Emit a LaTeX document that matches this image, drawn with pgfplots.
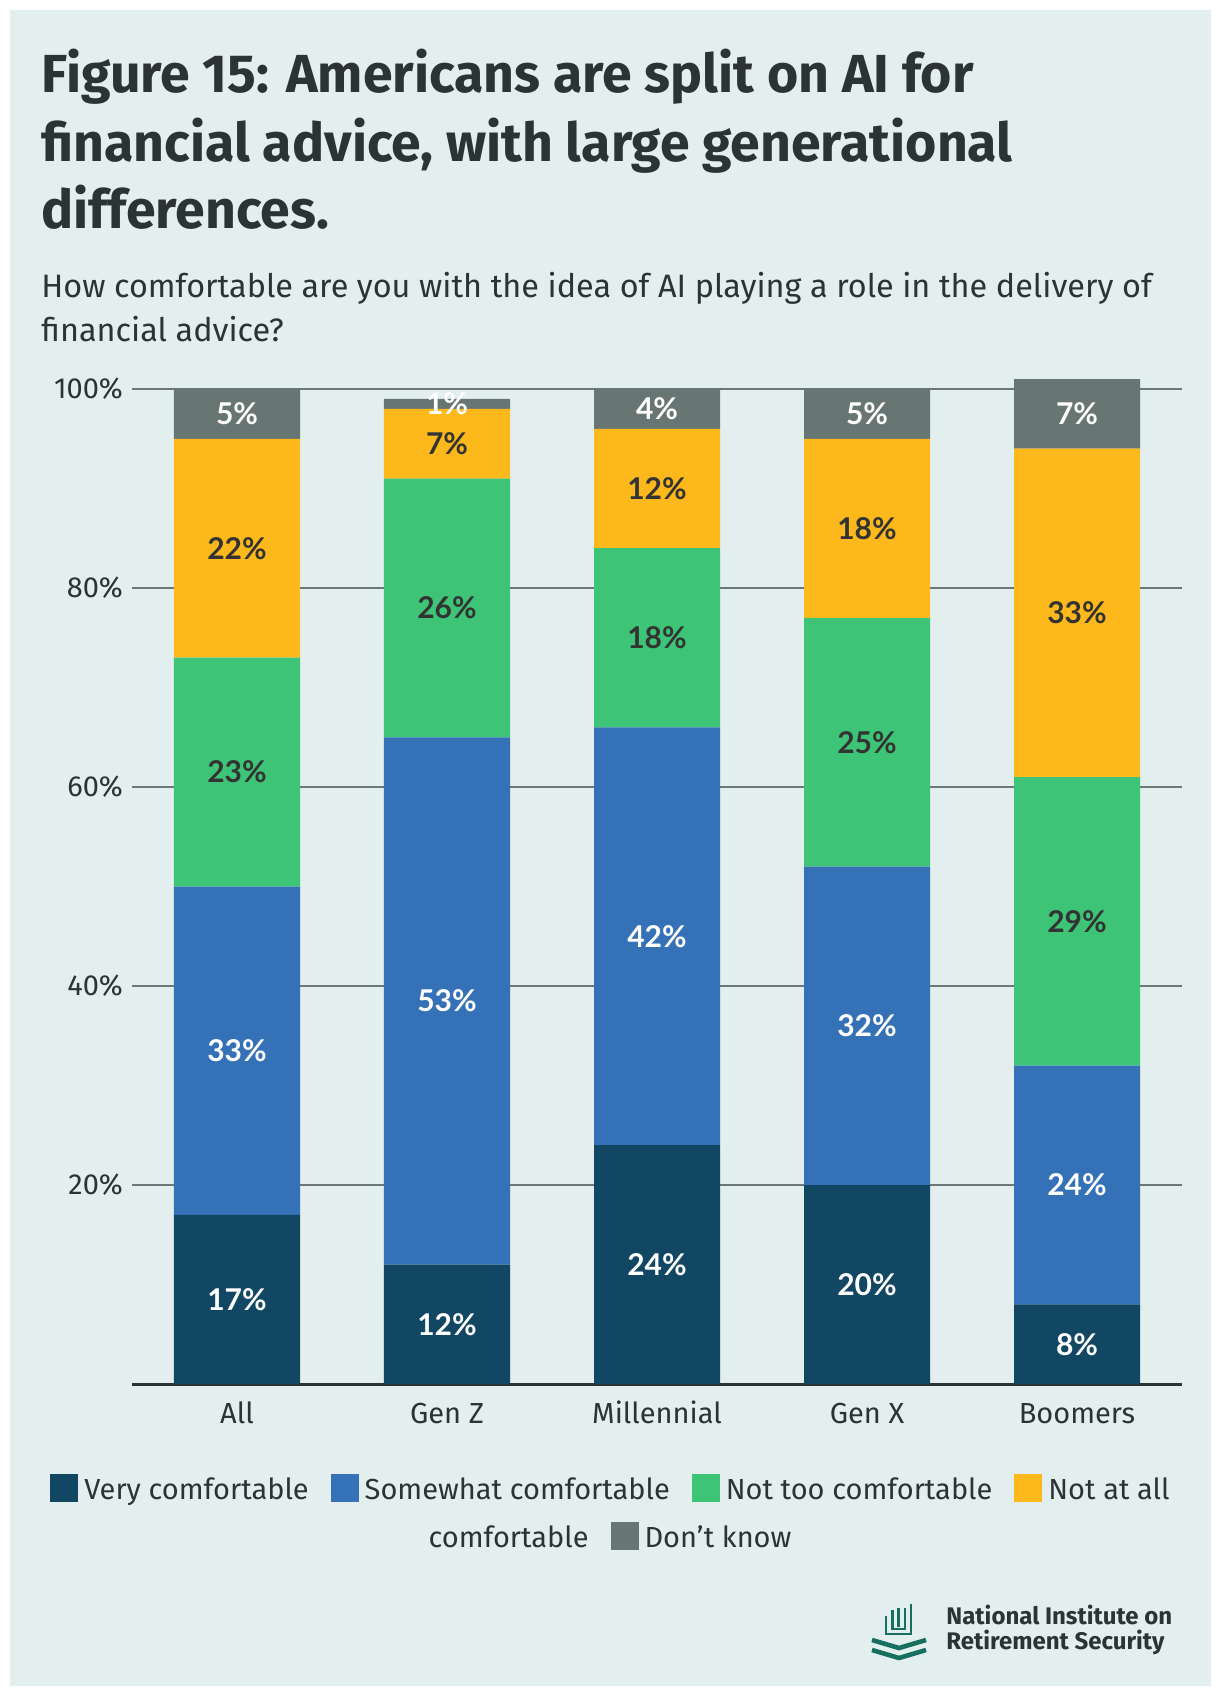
\documentclass[border=0pt]{standalone}
\usepackage{pgfplots}
\pgfplotsset{compat=1.18}
\usepackage{pgfplotstable}
\usepackage{fontspec}
\setmainfont{Fira Sans}
\newfontfamily\lato{Lato}
\definecolor{bg}{HTML}{E3EFEE}
\definecolor{cvery}{HTML}{124764}
\definecolor{csome}{HTML}{3571B6}
\definecolor{cnot}{HTML}{3EC476}
\definecolor{cnotall}{HTML}{FDB81C}
\definecolor{cdk}{HTML}{687673}
\definecolor{txt}{HTML}{2B3335}
\definecolor{gridc}{HTML}{6B7877}
\definecolor{logo}{HTML}{17705F}
\definecolor{labdark}{HTML}{333333}

\pgfplotstableread{
x very some nottoo notatall dk
0 17 33 23 22 5
1 12 53 26 7 1
2 24 42 18 12 4
3 20 32 25 18 5
4 8 24 29 33 7
}\data

\pgfplotstableread{
x cvery vvery csome vsome cnot vnot cnotall vnotall cdk vdk
0 8.5 17 33.5 33 61.5 23 84 22 97.5 5
1 6 12 38.5 53 78 26 94.5 7 98.5 1
2 12 24 45 42 75 18 90 12 98 4
3 10 20 36 32 64.5 25 86 18 97.5 5
4 4 8 20 24 46.5 29 77.5 33 97.5 7
}\centers

\pgfplotsset{
  geom/.style={
    at={(66pt,-692pt)}, anchor=south west,
    scale only axis, width=525pt, height=497.5pt,
    xmin=-0.5, xmax=4.5, ymin=0, ymax=100, clip=false,
    /pgf/number format/assume math mode=true,
  },
  lab/.style={draw=none, mark=none, nodes near coords={\pgfmathprintnumber{\pgfplotspointmeta}\%},
    point meta=explicit,
    every node near coord/.append style={anchor=center, font=\lato\bfseries\fontsize{15}{18}\selectfont, text=#1}},
}

\begin{document}
\begin{tikzpicture}
\useasboundingbox (0,0) rectangle (610pt,-848pt);
\fill[white] (0,0) rectangle (610pt,-848pt);
\fill[bg] (5pt,-5pt) rectangle (605.5pt,-843pt);

% title
\begin{scope}[every node/.style={anchor=base west, inner sep=0pt, text=txt}]
\node[font=\bfseries\fontsize{26.8}{33}\selectfont] at (20.5pt,-46.5pt) {Figure 15: Americans are split on AI for};
\node[font=\bfseries\fontsize{26.8}{33}\selectfont] at (20.5pt,-81pt) {financial advice, with large generational};
\node[font=\bfseries\fontsize{26.8}{33}\selectfont] at (20.5pt,-114pt) {differences.};
\node[font=\fontsize{16.2}{20}\selectfont] at (20.5pt,-148.5pt) {How comfortable are you with the idea of AI playing a role in the delivery of};
\node[font=\fontsize{16.2}{20}\selectfont] at (20.5pt,-170.5pt) {financial advice?};
\end{scope}

\begin{axis}[geom,
  ybar stacked, bar width=63pt,
  separate axis lines,
  axis x line*=bottom, axis y line*=left,
  x axis line style={draw=txt, line width=1.5pt, -},
  y axis line style={draw=none},
  major tick length=0pt,
  xtick={0,1,2,3,4},
  xticklabels={All,Gen Z,Millennial,Gen X,Boomers},
  ytick={20,40,60,80,100},
  yticklabels={20\%,40\%,60\%,80\%,100\%},
  ymajorgrids, grid style={gridc, line width=1pt},
  tick label style={font=\fontsize{14.5}{17}\selectfont, text=txt},
  xticklabel style={anchor=base, yshift=-19.5pt},
  yticklabel style={xshift=-1pt},
  every axis plot/.append style={draw=none},
]
\addplot[fill=cvery] table[x=x,y=very] {\data};
\addplot[fill=csome] table[x=x,y=some] {\data};
\addplot[fill=cnot] table[x=x,y=nottoo] {\data};
\addplot[fill=cnotall] table[x=x,y=notatall] {\data};
\addplot[fill=cdk] table[x=x,y=dk] {\data};
\end{axis}

\begin{axis}[geom, hide axis]
\addplot[lab=white] table[x=x,y=cvery,meta=vvery] {\centers};
\addplot[lab=white] table[x=x,y=csome,meta=vsome] {\centers};
\addplot[lab=labdark] table[x=x,y=cnot,meta=vnot] {\centers};
\addplot[lab=labdark] table[x=x,y=cnotall,meta=vnotall] {\centers};
\addplot[lab=white] table[x=x,y=cdk,meta=vdk] {\centers};
\end{axis}

% legend
\newcommand{\sq}[1]{{\color{#1}\rule[-1.5pt]{14pt}{14pt}}\hspace{3pt}}
\begin{scope}[every node/.style={anchor=base, inner sep=0pt, text=txt, font=\fontsize{14.5}{17}\selectfont}]
\node at (305pt,-749.5pt) {\sq{cvery}Very comfortable\hspace{11pt}\sq{csome}Somewhat comfortable\hspace{11pt}\sq{cnot}Not too comfortable\hspace{11pt}\sq{cnotall}Not at all};
\node at (305pt,-773.5pt) {comfortable\hspace{11pt}\sq{cdk}Don’t know};
\end{scope}

% logo
\node[anchor=base west, inner sep=0pt, text=txt, font=\bfseries\fontsize{12}{14}\selectfont] at (473pt,-812pt) {National Institute on};
\node[anchor=base west, inner sep=0pt, text=txt, font=\bfseries\fontsize{12}{14}\selectfont] at (473pt,-824.5pt) {Retirement Security};
\begin{scope}[draw=logo, line width=1.3pt]
\draw (443pt,-808pt) -- (443pt,-817pt) -- (455.5pt,-817pt) -- (455.5pt,-802pt);
\draw (446.2pt,-805pt) -- (446.2pt,-814.5pt) -- (452.5pt,-814.5pt) -- (452.5pt,-804pt);
\draw (449.2pt,-804pt) -- (449.2pt,-813.5pt);
\draw[line width=2.3pt] (436pt,-820pt) -- (449.5pt,-824pt) -- (463pt,-820pt);
\draw[line width=2.3pt] (436pt,-825pt) -- (449.5pt,-829pt) -- (463pt,-825pt);
\end{scope}
\end{tikzpicture}
\end{document}
